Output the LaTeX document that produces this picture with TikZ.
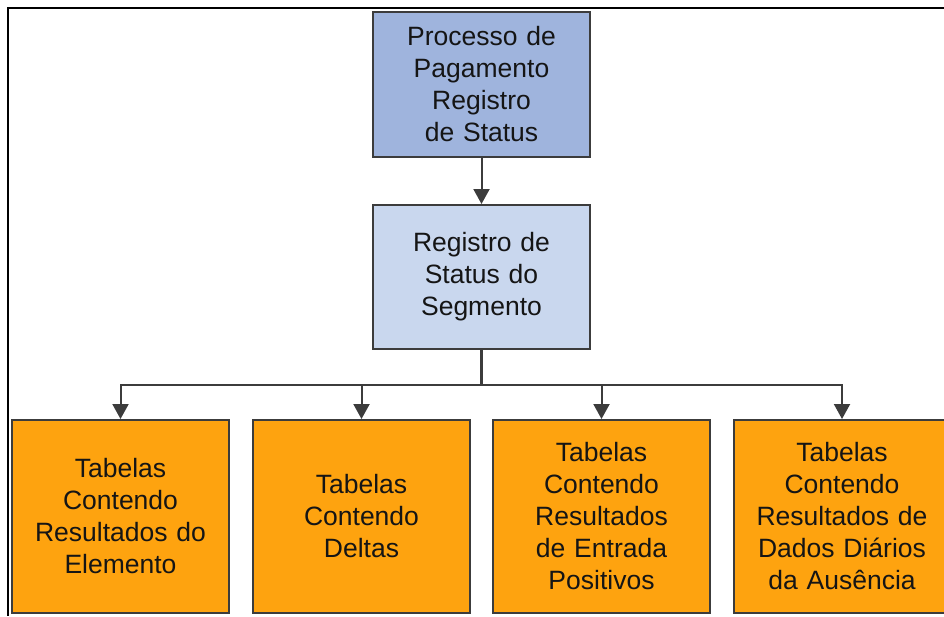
\documentclass[tikz,border=0pt]{standalone}
\usepackage{fontspec}
\setmainfont{Liberation Sans}
\usetikzlibrary{arrows.meta}
\definecolor{topblue}{HTML}{9FB4DD}
\definecolor{midblue}{HTML}{C9D7EE}
\definecolor{boxorange}{HTML}{FEA30F}
\definecolor{edgegray}{HTML}{3C3C3C}
\definecolor{txtgray}{HTML}{151515}
\begin{document}
\begin{tikzpicture}[x=1pt,y=-1pt,
  box/.style={draw=edgegray,line width=2pt,minimum width=217pt,inner sep=0pt,
    align=center,text width=210pt,text=txtgray,
    font=\fontsize{26.5}{32}\selectfont},
  topbox/.style={box,fill=topblue,minimum height=145pt},
  midbox/.style={box,fill=midblue,minimum height=144pt},
  leafbox/.style={box,fill=boxorange,minimum height=193pt},
  conn/.style={draw=edgegray,line width=2pt},
  arr/.style={conn,-{Triangle[length=15pt,width=16pt]}},
  frameline/.style={draw=black,line width=2.2pt}
]
\useasboundingbox (0,0) rectangle (944,616);
\clip (0,0) rectangle (944,616);
\fill[white] (0,0) rectangle (944,616);
\draw[frameline] (944,8) -- (8,8) -- (8,616);

\node[topbox] (top) at (481.5,84.5) {Processo de\\Pagamento\\Registro\\de Status};
\node[midbox] (mid) at (481.5,277) {Registro de\\Status do\\Segmento};

\node[leafbox] (b1) at (120.5,516.5) {Tabelas\\Contendo\\Resultados do\\Elemento};
\node[leafbox] (b2) at (361.5,516.5) {Tabelas\\Contendo\\Deltas};
\node[leafbox] (b3) at (601.5,516.5) {Tabelas\\Contendo\\Resultados\\de Entrada\\Positivos};
\node[leafbox] (b4) at (842,516.5) {Tabelas\\Contendo\\Resultados de\\Dados Diários\\da Ausência};

\coordinate (j) at (481.5,385);
\draw[arr] (top) -- (mid);
\draw[conn,line width=3pt] (mid.south) -- (j);
\draw[arr] (j) -| (b1.north);
\draw[arr] (j) -| (b2.north);
\draw[arr] (j) -| (b3.north);
\draw[arr] (j) -| (b4.north);
\end{tikzpicture}
\end{document}
